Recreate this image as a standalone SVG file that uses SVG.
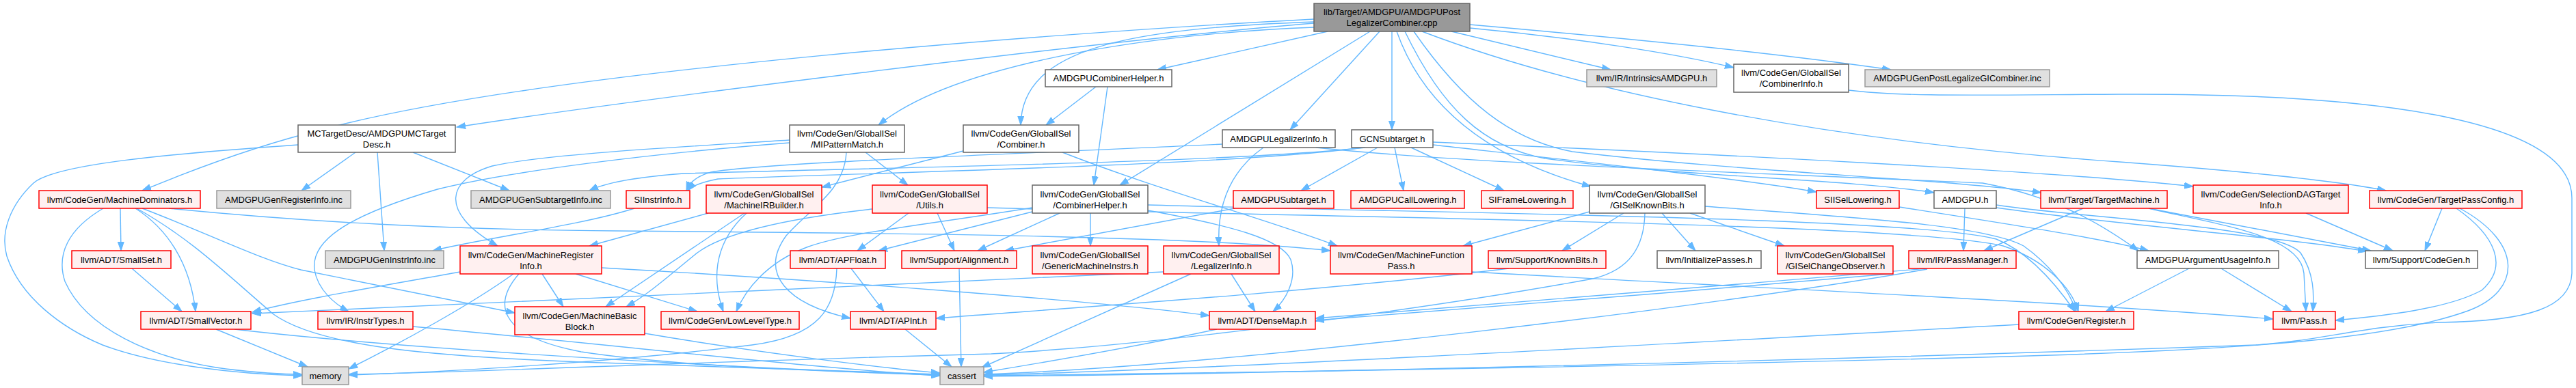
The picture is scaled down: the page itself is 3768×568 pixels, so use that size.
<svg xmlns="http://www.w3.org/2000/svg" width="3768" height="568" viewBox="0 0 3768 568">
<style>
text{font-family:"Liberation Sans",Arial,Helvetica,sans-serif;font-size:13px;text-anchor:middle;fill:#000}
rect{stroke-width:1.5}
.r rect{fill:#FFF0F0;stroke:#FF0000}
.g rect{fill:#E0E0E0;stroke:#999999}
.w rect{fill:#FFFFFF;stroke:#666666}
.t rect{fill:#999999;stroke:#666666}
#edges path{fill:none;stroke:#63B8FF;stroke-width:1.4;marker-end:url(#ah)}
</style>
<defs>
<marker id="ah" markerWidth="14" markerHeight="10" refX="13" refY="5" orient="auto" markerUnits="userSpaceOnUse"><path d="M0,0.5 L13,5 L0,9.5 z" fill="#63B8FF" stroke="#63B8FF" stroke-width="1"/></marker>
</defs>
<rect x="0" y="0" width="3768" height="568" fill="#FFFFFF" stroke="none"/>
<g id="edges">
<path d="M1922,28 C1600,45 800,100 470,190 C380,212 290,245 208,279"/>
<path d="M1922,34 C1600,60 900,150 668,186"/>
<path d="M1922,40 C1700,48 1400,90 1285,183"/>
<path d="M1922,32 C1650,42 1495,70 1493,183"/>
<path d="M1942,46 L1693,102"/>
<path d="M2004,46 L1638,271"/>
<path d="M2018,46 L1887,190"/>
<path d="M2036,46 L2036,190"/>
<path d="M2043,46 C2080,150 2170,230 2327,273"/>
<path d="M2055,46 C2110,160 2170,215 2260,232 C2450,258 2700,262 2829,282"/>
<path d="M2068,46 C2140,150 2210,205 2300,222 C2550,252 2850,262 2986,282"/>
<path d="M2080,46 C2300,130 2650,205 3100,237 C3300,252 3420,265 3490,279"/>
<path d="M2123,46 L2356,102"/>
<path d="M2150,36 C2400,58 2600,78 2766,102"/>
<path d="M2150,41 C2300,55 2450,78 2536,99"/>
<path d="M436,212 C250,225 80,240 49,268 C15,300 0,340 10,375 C30,435 90,480 150,505 C230,535 350,548 442,550"/>
<path d="M520,223 L441,279"/>
<path d="M552,223 L562,367"/>
<path d="M604,223 L745,279"/>
<path d="M151,305 C100,335 82,372 95,412 C125,480 220,525 330,540 C380,546 420,548 442,548"/>
<path d="M176,305 L177,367"/>
<path d="M198,305 C245,335 278,385 286,456"/>
<path d="M200,305 C280,350 330,400 400,460 C470,510 650,522 850,530 C1100,540 1300,546 1375,548"/>
<path d="M208,305 C300,340 380,380 440,395 C560,420 660,440 753,458"/>
<path d="M247,305 C450,325 650,336 900,338 C1300,341 1750,345 1946,367"/>
<path d="M193,393 L266,456"/>
<path d="M316,482 L450,537"/>
<path d="M343,482 C600,512 1100,540 1375,549"/>
<path d="M604,478 C900,505 1200,540 1375,550"/>
<path d="M1155,205 C1000,215 800,225 720,243 C655,262 640,310 728,360"/>
<path d="M1155,209 C950,225 750,250 640,277 C500,318 455,355 460,395 C465,425 490,445 510,456"/>
<path d="M1266,223 L1328,271"/>
<path d="M1238,223 C1235,280 1185,305 1150,345 C1110,400 1150,445 1244,466"/>
<path d="M1409,221 L1202,274"/>
<path d="M1554,223 C1700,280 1850,320 1956,360"/>
<path d="M1603,127 L1530,183"/>
<path d="M1620,127 L1600,271"/>
<path d="M1788,211 C1500,225 1120,238 1040,252 C1018,258 1008,268 1004,279"/>
<path d="M1848,216 C1800,250 1780,300 1783,360"/>
<path d="M1925,216 C2150,240 2550,252 2900,268 C3020,290 3090,340 3128,367"/>
<path d="M1997,216 C1800,238 1300,245 1000,254 C920,260 880,270 862,279"/>
<path d="M1993,216 C1800,242 1300,252 1050,262 C1025,267 1012,272 1006,279"/>
<path d="M2015,216 L1903,279"/>
<path d="M2040,216 L2053,279"/>
<path d="M2064,216 L2200,279"/>
<path d="M2096,212 C2300,235 2550,262 2657,281"/>
<path d="M2096,208 C2500,225 3000,250 3208,273"/>
<path d="M1806,305 L1470,367"/>
<path d="M1550,312 L1430,367"/>
<path d="M1595,312 L1595,360"/>
<path d="M1510,310 L1285,367"/>
<path d="M1510,304 C1350,330 1240,340 1180,362 C1120,385 1090,425 1077,456"/>
<path d="M1679,308 C1800,330 1875,350 1888,380 C1898,410 1880,440 1862,456"/>
<path d="M1679,300 C2100,312 2800,318 2920,350 C2970,370 3010,420 3035,456"/>
<path d="M1329,312 L1254,367"/>
<path d="M1371,312 L1396,367"/>
<path d="M1276,306 C1150,320 1060,340 1020,370 C985,398 950,430 916,449"/>
<path d="M1444,304 C1900,318 2780,325 2930,360 C2990,380 3030,420 3040,456"/>
<path d="M1036,312 L862,360"/>
<path d="M1089,312 L886,449"/>
<path d="M1092,312 C1050,350 1038,400 1058,456"/>
<path d="M928,305 C850,330 700,350 633,367"/>
<path d="M673,398 C550,420 430,440 369,457"/>
<path d="M751,401 C690,445 590,500 510,540"/>
<path d="M759,401 C725,440 720,490 850,515 C1000,538 1250,545 1375,549"/>
<path d="M793,401 L824,449"/>
<path d="M842,401 L1020,456"/>
<path d="M880,392 C1200,410 1600,440 1769,462"/>
<path d="M1245,393 L1293,456"/>
<path d="M1224,393 C1222,450 1200,492 1100,505 C900,530 650,545 510,549"/>
<path d="M1403,393 L1406,537"/>
<path d="M1801,401 L1836,456"/>
<path d="M1742,401 L1436,538"/>
<path d="M1702,398 C1300,420 700,440 369,459"/>
<path d="M1324,482 L1392,537"/>
<path d="M1780,482 C1650,510 1500,535 1439,545"/>
<path d="M943,488 C1100,515 1300,540 1375,546"/>
<path d="M2153,398 C2500,418 3000,440 3325,467"/>
<path d="M2207,393 C1900,430 1500,455 1369,466"/>
<path d="M2325,310 L2140,360"/>
<path d="M2375,312 L2285,367"/>
<path d="M2406,312 C2405,360 2385,395 2330,408 C2100,450 1700,505 1450,518 C1000,530 700,545 510,548"/>
<path d="M2431,312 L2480,367"/>
<path d="M2472,312 L2610,360"/>
<path d="M2494,302 C2700,318 2900,328 2960,360 C2995,385 3025,420 3037,456"/>
<path d="M2874,305 L2872,367"/>
<path d="M2920,300 C3050,320 3330,330 3365,370 C3385,400 3385,430 3383,456"/>
<path d="M2920,304 C3100,330 3350,348 3462,368"/>
<path d="M3047,305 L2902,367"/>
<path d="M3143,305 L3468,367"/>
<path d="M3143,305 C3250,330 3365,345 3370,400 L3373,456"/>
<path d="M3373,312 L3500,367"/>
<path d="M3572,305 L3547,367"/>
<path d="M3593,305 C3650,345 3670,390 3630,425 C3580,452 3490,462 3416,469"/>
<path d="M3598,305 C3690,355 3690,425 3610,455 C3500,495 3300,510 3000,520 C2500,535 1800,546 1439,550"/>
<path d="M2704,132 C2780,142 2900,139 3100,138 C3500,136 3762,180 3762,290 L3762,400 C3760,450 3700,470 3569,472 C3450,478 3400,498 3300,505 C2600,530 1800,548 1439,551"/>
<path d="M3202,393 L3080,456"/>
<path d="M3249,393 L3352,456"/>
<path d="M2778,303 C2950,330 3080,350 3143,367"/>
<path d="M2819,393 C2500,420 2100,452 1924,466"/>
<path d="M2764,401 C2500,425 2100,455 1924,469"/>
<path d="M2819,394 C2500,450 1800,535 1439,548"/>
<path d="M2953,475 C2500,500 1800,540 1439,549"/>
</g>
<g id="n0" class="t"><rect x="1922" y="5" width="228" height="41"/><text x="2036" y="22">lib/Target/AMDGPU/AMDGPUPost</text><text x="2036" y="38">LegalizerCombiner.cpp</text></g>
<g id="n1" class="w"><rect x="1529" y="102" width="185" height="25"/><text x="1621.5" y="119">AMDGPUCombinerHelper.h</text></g>
<g id="n2" class="g"><rect x="2321" y="102" width="190" height="25"/><text x="2416" y="119">llvm/IR/IntrinsicsAMDGPU.h</text></g>
<g id="n3" class="w"><rect x="2536" y="94" width="168" height="41"/><text x="2620" y="111">llvm/CodeGen/GlobalISel</text><text x="2620" y="127">/CombinerInfo.h</text></g>
<g id="n4" class="g"><rect x="2728" y="102" width="270" height="25"/><text x="2863" y="119">AMDGPUGenPostLegalizeGICombiner.inc</text></g>
<g id="n5" class="w"><rect x="436" y="183" width="230" height="40"/><text x="551" y="200">MCTargetDesc/AMDGPUMCTarget</text><text x="551" y="216">Desc.h</text></g>
<g id="n6" class="w"><rect x="1155" y="183" width="168" height="40"/><text x="1239" y="200">llvm/CodeGen/GlobalISel</text><text x="1239" y="216">/MIPatternMatch.h</text></g>
<g id="n7" class="w"><rect x="1409" y="183" width="169" height="40"/><text x="1493.5" y="200">llvm/CodeGen/GlobalISel</text><text x="1493.5" y="216">/Combiner.h</text></g>
<g id="n8" class="w"><rect x="1788" y="190" width="165" height="26"/><text x="1870.5" y="207.5">AMDGPULegalizerInfo.h</text></g>
<g id="n9" class="w"><rect x="1977" y="190" width="119" height="26"/><text x="2036.5" y="207.5">GCNSubtarget.h</text></g>
<g id="n10" class="r"><rect x="57" y="279" width="236" height="26"/><text x="175" y="296.5">llvm/CodeGen/MachineDominators.h</text></g>
<g id="n11" class="g"><rect x="317" y="279" width="196" height="26"/><text x="415" y="296.5">AMDGPUGenRegisterInfo.inc</text></g>
<g id="n12" class="g"><rect x="689" y="279" width="204" height="26"/><text x="791" y="296.5">AMDGPUGenSubtargetInfo.inc</text></g>
<g id="n13" class="r"><rect x="916" y="279" width="93" height="26"/><text x="962.5" y="296.5">SIInstrInfo.h</text></g>
<g id="n14" class="r"><rect x="1033" y="271" width="169" height="41"/><text x="1117.5" y="288.5">llvm/CodeGen/GlobalISel</text><text x="1117.5" y="304.5">/MachineIRBuilder.h</text></g>
<g id="n15" class="r"><rect x="1276" y="271" width="168" height="41"/><text x="1360" y="288.5">llvm/CodeGen/GlobalISel</text><text x="1360" y="304.5">/Utils.h</text></g>
<g id="n16" class="w"><rect x="1510" y="271" width="169" height="41"/><text x="1594.5" y="288.5">llvm/CodeGen/GlobalISel</text><text x="1594.5" y="304.5">/CombinerHelper.h</text></g>
<g id="n17" class="r"><rect x="1804" y="279" width="147" height="26"/><text x="1877.5" y="296.5">AMDGPUSubtarget.h</text></g>
<g id="n18" class="r"><rect x="1976" y="279" width="166" height="26"/><text x="2059" y="296.5">AMDGPUCallLowering.h</text></g>
<g id="n19" class="r"><rect x="2167" y="279" width="134" height="26"/><text x="2234" y="296.5">SIFrameLowering.h</text></g>
<g id="n20" class="w"><rect x="2325" y="271" width="169" height="41"/><text x="2409.5" y="288.5">llvm/CodeGen/GlobalISel</text><text x="2409.5" y="304.5">/GISelKnownBits.h</text></g>
<g id="n21" class="r"><rect x="2657" y="279" width="121" height="26"/><text x="2717.5" y="296.5">SIISelLowering.h</text></g>
<g id="n22" class="w"><rect x="2829" y="279" width="91" height="26"/><text x="2874.5" y="296.5">AMDGPU.h</text></g>
<g id="n23" class="r"><rect x="2985" y="279" width="185" height="26"/><text x="3077.5" y="296.5">llvm/Target/TargetMachine.h</text></g>
<g id="n24" class="r"><rect x="3208" y="271" width="227" height="41"/><text x="3321.5" y="288.5">llvm/CodeGen/SelectionDAGTarget</text><text x="3321.5" y="304.5">Info.h</text></g>
<g id="n25" class="r"><rect x="3466" y="279" width="223" height="26"/><text x="3577.5" y="296.5">llvm/CodeGen/TargetPassConfig.h</text></g>
<g id="n26" class="r"><rect x="105" y="367" width="145" height="26"/><text x="177.5" y="384.5">llvm/ADT/SmallSet.h</text></g>
<g id="n27" class="g"><rect x="476" y="367" width="173" height="26"/><text x="562.5" y="384.5">AMDGPUGenInstrInfo.inc</text></g>
<g id="n28" class="r"><rect x="673" y="360" width="207" height="41"/><text x="776.5" y="377.5">llvm/CodeGen/MachineRegister</text><text x="776.5" y="393.5">Info.h</text></g>
<g id="n29" class="r"><rect x="1156" y="367" width="139" height="26"/><text x="1225.5" y="384.5">llvm/ADT/APFloat.h</text></g>
<g id="n30" class="r"><rect x="1319" y="367" width="168" height="26"/><text x="1403" y="384.5">llvm/Support/Alignment.h</text></g>
<g id="n31" class="r"><rect x="1510" y="360" width="169" height="41"/><text x="1594.5" y="377.5">llvm/CodeGen/GlobalISel</text><text x="1594.5" y="393.5">/GenericMachineInstrs.h</text></g>
<g id="n32" class="r"><rect x="1702" y="360" width="169" height="41"/><text x="1786.5" y="377.5">llvm/CodeGen/GlobalISel</text><text x="1786.5" y="393.5">/LegalizerInfo.h</text></g>
<g id="n33" class="r"><rect x="1946" y="360" width="207" height="41"/><text x="2049.5" y="377.5">llvm/CodeGen/MachineFunction</text><text x="2049.5" y="393.5">Pass.h</text></g>
<g id="n34" class="r"><rect x="2177" y="367" width="172" height="26"/><text x="2263" y="384.5">llvm/Support/KnownBits.h</text></g>
<g id="n35" class="w"><rect x="2424" y="367" width="152" height="26"/><text x="2500" y="384.5">llvm/InitializePasses.h</text></g>
<g id="n36" class="r"><rect x="2600" y="360" width="169" height="41"/><text x="2684.5" y="377.5">llvm/CodeGen/GlobalISel</text><text x="2684.5" y="393.5">/GISelChangeObserver.h</text></g>
<g id="n37" class="r"><rect x="2792" y="367" width="157" height="26"/><text x="2870.5" y="384.5">llvm/IR/PassManager.h</text></g>
<g id="n38" class="w"><rect x="3126" y="367" width="207" height="26"/><text x="3229.5" y="384.5">AMDGPUArgumentUsageInfo.h</text></g>
<g id="n39" class="w"><rect x="3460" y="367" width="164" height="26"/><text x="3542" y="384.5">llvm/Support/CodeGen.h</text></g>
<g id="n40" class="r"><rect x="206" y="456" width="161" height="26"/><text x="286.5" y="473.5">llvm/ADT/SmallVector.h</text></g>
<g id="n41" class="r"><rect x="465" y="456" width="139" height="26"/><text x="534.5" y="473.5">llvm/IR/InstrTypes.h</text></g>
<g id="n42" class="r"><rect x="753" y="449" width="190" height="41"/><text x="848" y="466.5">llvm/CodeGen/MachineBasic</text><text x="848" y="482.5">Block.h</text></g>
<g id="n43" class="r"><rect x="967" y="456" width="202" height="26"/><text x="1068" y="473.5">llvm/CodeGen/LowLevelType.h</text></g>
<g id="n44" class="r"><rect x="1244" y="456" width="125" height="26"/><text x="1306.5" y="473.5">llvm/ADT/APInt.h</text></g>
<g id="n45" class="r"><rect x="1769" y="456" width="155" height="26"/><text x="1846.5" y="473.5">llvm/ADT/DenseMap.h</text></g>
<g id="n46" class="r"><rect x="2953" y="456" width="168" height="26"/><text x="3037" y="473.5">llvm/CodeGen/Register.h</text></g>
<g id="n47" class="r"><rect x="3325" y="456" width="91" height="26"/><text x="3370.5" y="473.5">llvm/Pass.h</text></g>
<g id="n48" class="g"><rect x="442" y="537" width="68" height="26"/><text x="476" y="554.5">memory</text></g>
<g id="n49" class="g"><rect x="1375" y="537" width="64" height="26"/><text x="1407" y="554.5">cassert</text></g>
</svg>
